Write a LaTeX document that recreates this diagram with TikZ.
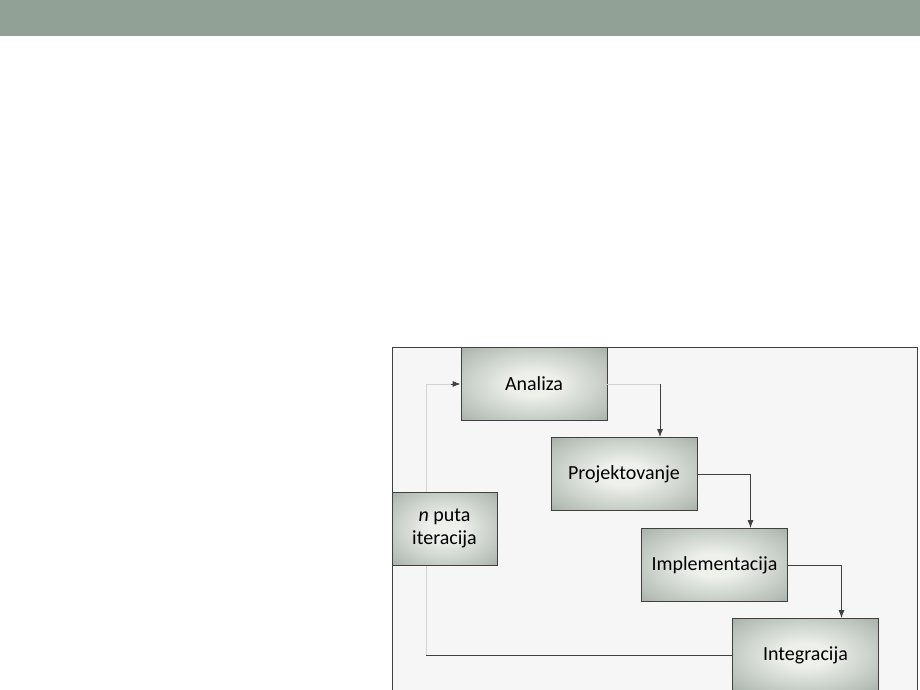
\documentclass[tikz,border=0pt]{standalone}
\usepackage{fontspec}
\setmainfont{Carlito}
\usetikzlibrary{arrows.meta}

\definecolor{bandgreen}{HTML}{91A195}
\definecolor{boxedge}{HTML}{8A988E}
\definecolor{boxmid}{HTML}{EEF0EC}
\definecolor{framefill}{HTML}{F6F6F6}
\definecolor{faint}{HTML}{D4D4D4}

\pgfdeclareradialshading{boxglow}{\pgfpoint{0bp}{0bp}}{%
    color(0bp)=(boxmid); color(8bp)=(boxmid); color(30bp)=(boxedge!55!boxmid);
    color(45bp)=(boxedge); color(100bp)=(boxedge)}

\tikzset{
    phase/.style={draw=black!75, line width=0.8pt, shading=boxglow,
        minimum width=146pt, minimum height=73pt, inner sep=0pt,
        font=\fontsize{20}{24}\selectfont},
    flow/.style={draw=black!75, line width=0.8pt, -{Latex[length=8pt,width=6pt]}},
    back/.style={draw=faint, line width=0.8pt}
}

\begin{document}
\begin{tikzpicture}[x=1pt, y=-1pt]
        \useasboundingbox (0,0) rectangle (920,690);
        \clip (0,0) rectangle (920,690);
        \fill[white] (0,0) rectangle (920,690);
        \fill[bandgreen] (0,0) rectangle (920,36);
        \draw[black!75, line width=0.8pt, fill=framefill] (392,347) rectangle (917,700);

        % vertical light line behind the iteration box
        \coordinate (turn) at (426,655);
        \coordinate (up) at (426,384);
        \draw[back] (turn) -- (up);

        \node[phase, minimum width=105pt] (iter) at (444.5,528.5) {\begin{tabular}{@{}c@{}}\textit{n} puta\\[-1pt] iteracija\end{tabular}};
        \node[phase] (ana) at (534,384) {Analiza};
        \node[phase] (proj) at (624,474) {Projektovanje};
        \node[phase] (impl) at (714.5,565) {Implementacija};
        \node[phase] (integ) at (805.5,655) {Integracija};

        \coordinate (drop1) at ([xshift=36pt]proj.north);
        \coordinate (drop2) at ([xshift=36pt]impl.north);
        \coordinate (drop3) at ([xshift=36pt]integ.north);
        \draw[back] (ana.east) -- (ana.east -| drop1);
        \draw[flow] (ana.east -| drop1) -- (drop1);
        \draw[flow] (proj.east) -| (drop2);
        \draw[flow] (impl.east) -| (drop3);
        \draw[draw=black!75, line width=0.8pt] (integ.west) -- (turn);
        \draw[back] (up) -- ([xshift=-10pt]ana.west);
        \draw[flow] ([xshift=-10pt]ana.west) -- (ana.west);
    \end{tikzpicture}
\end{document}
